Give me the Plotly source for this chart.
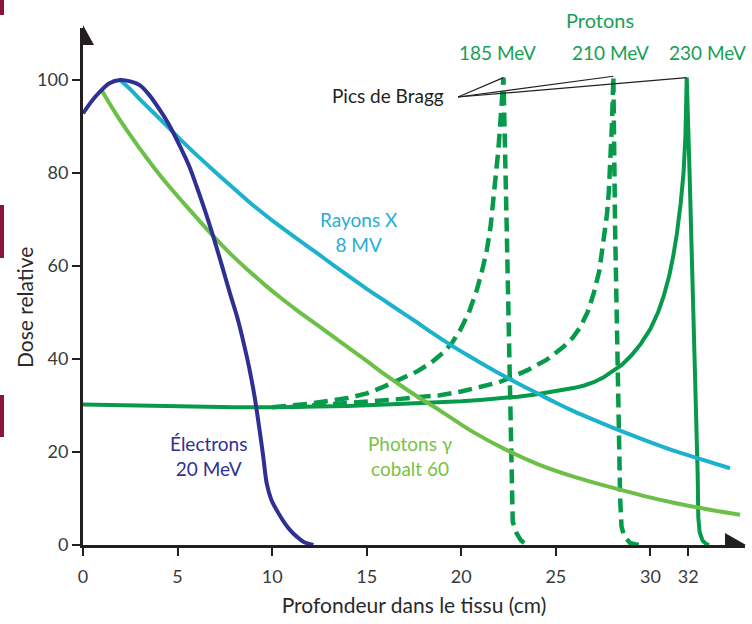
import plotly.graph_objects as go

# ---------------- data ----------------
depth_electrons = [0.0, 0.45, 0.9, 1.4, 1.96, 2.5, 3.0, 3.5, 4.07, 4.6, 5.13, 5.6, 6.01, 6.45,
                   6.89, 7.33, 7.77, 8.2, 8.66, 8.9, 9.1, 9.36, 9.53, 9.71, 9.95, 10.24, 10.6,
                   10.95, 11.3, 11.65, 12.18]
dose_electrons = [92.8, 95.4, 97.5, 99.3, 100.0, 99.7, 98.9, 96.8, 93.5, 90.0, 85.7, 81.6, 77.1,
                  71.9, 66.3, 60.3, 54.1, 48.3, 40.5, 35.8, 31.2, 24.0, 19.0, 13.3, 9.8, 7.5, 5.1,
                  3.2, 1.8, 0.7, 0.0]

depth_xrays = [1.96, 2.5, 3.0, 4.07, 5.13, 6.0, 6.89, 7.77, 8.66, 9.5, 10.42, 11.4, 12.36, 13.2,
               14.12, 15.0, 15.88, 16.8, 17.65, 18.5, 19.41, 20.3, 21.17, 22.4, 23.3, 24.17,
               25.0, 25.93, 27.2, 28.4, 29.8, 31.22, 32.7, 34.2]
dose_xrays = [100.0, 98.0, 95.9, 91.6, 87.3, 83.9, 80.6, 77.4, 74.2, 71.4, 68.5, 65.6, 62.8,
              60.3, 57.6, 55.1, 52.7, 50.2, 47.9, 45.5, 43.1, 40.9, 38.8, 36.0, 34.1, 32.3,
              30.6, 28.8, 26.6, 24.6, 22.4, 20.3, 18.4, 16.5]

depth_cobalt = [0.95, 1.7, 2.49, 3.3, 4.25, 5.5, 6.89, 7.8, 8.7, 9.6, 10.5, 11.4, 12.36, 13.2,
                14.12, 15.0, 15.88, 16.8, 17.65, 18.88, 20.5, 22.4, 24.1, 25.93, 27.2, 28.4,
                29.8, 31.22, 33.0, 34.74]
dose_cobalt = [98.0, 93.0, 88.2, 83.6, 78.6, 72.7, 66.4, 62.6, 59.2, 56.0, 53.0, 50.2, 47.4,
               44.9, 42.2, 39.6, 36.9, 34.3, 32.0, 28.9, 24.6, 20.4, 17.3, 14.7, 13.2, 11.9,
               10.4, 9.1, 7.7, 6.5]

depth_p230 = [0, 2, 4, 6, 8, 10, 12, 14, 16, 18, 20, 21, 22, 23, 24, 25, 26, 26.5, 27, 27.5, 28,
              28.5, 29, 29.5, 30, 30.4, 30.7, 31.0, 31.2, 31.4, 31.6, 31.75, 31.85, 31.92,
              32.07, 32.29, 32.45, 32.5, 32.53, 32.6, 32.75, 32.95, 33.1]
dose_p230 = [30.2, 30.0, 29.8, 29.7, 29.6, 29.6, 29.7, 29.9, 30.2, 30.5, 30.9, 31.2, 31.5, 31.9,
             32.4, 33.0, 33.8, 34.3, 35.0, 36.0, 37.3, 38.8, 40.8, 43.3, 46.5, 50.0, 53.5, 58.0,
             62.0, 67.0, 73.5, 80.0, 88.0, 100.5, 80.0, 50.0, 27.0, 15.0, 6.0, 2.8, 1.0, 0.2, 0.0]

depth_p185 = [10, 12, 14, 15, 15.88, 16.8, 17.65, 18.4, 19.05, 19.5, 19.94, 20.4, 20.82, 21.1,
              21.35, 21.55, 21.7, 21.85, 21.96, 22.05, 22.15, 22.23, 22.4, 22.55, 22.62, 22.66,
              22.72, 22.93, 23.15, 23.46]
dose_p185 = [29.6, 30.4, 31.6, 32.6, 34.0, 35.6, 37.3, 39.2, 41.4, 43.4, 46.2, 50.0, 54.8, 59.0,
             63.4, 68.5, 74.2, 80.0, 85.0, 90.0, 95.5, 100.5, 68.5, 40.0, 25.0, 12.0, 5.0, 2.5,
             1.0, 0.0]

depth_p210 = [11, 13, 15, 16.5, 17.65, 18.88, 20, 21, 22, 22.6, 23.5, 24.5, 25.4, 25.9, 26.3,
              26.7, 27.0, 27.3, 27.52, 27.7, 27.8, 27.9, 27.96, 28.0, 28.04, 28.13, 28.2, 28.31,
              28.36, 28.4, 28.47, 28.6, 28.93, 29.4]
dose_p210 = [29.7, 30.2, 30.8, 31.3, 31.8, 32.2, 33.0, 34.0, 35.0, 36.0, 37.6, 39.8, 42.6, 44.6,
             46.9, 50.3, 54.1, 59.0, 64.9, 71.0, 76.0, 83.0, 90.0, 95.0, 100.8, 68.5, 50.0, 32.6,
             20.0, 10.0, 4.0, 2.0, 0.4, 0.0]

x_ticks = [0, 5, 10, 15, 20, 25, 30, 32]
y_ticks = [0, 20, 40, 60, 80, 100]

# ---------------- layout geometry ----------------
W, H = 752, 624
L, R, T, B = 83, 7, 28, 79
X_MAX = 35.0
PX_PER_UNIT = 4.65
Y_MAX = (H - T - B) / PX_PER_UNIT


def px2paper(px):
    return (px - L) / (W - L - R)


def py2paper(py):
    return (H - B - py) / (H - T - B)


C_ELEC = "#2e3192"
C_XRAY = "#1cb1cc"
C_COB = "#6cbf47"
C_PROT = "#079a4a"
C_AXIS = "#231f20"
FONT = "Lato, 'Open Sans', sans-serif"

fig = go.Figure()
fig.add_trace(go.Scatter(x=depth_p230, y=dose_p230, mode="lines", name="Protons 230 MeV",
                         line=dict(color=C_PROT, width=4)))
fig.add_trace(go.Scatter(x=depth_p185, y=dose_p185, mode="lines", name="Protons 185 MeV",
                         line=dict(color=C_PROT, width=4.5, dash="14px,7px")))
fig.add_trace(go.Scatter(x=depth_p210, y=dose_p210, mode="lines", name="Protons 210 MeV",
                         line=dict(color=C_PROT, width=4.5, dash="14px,7px")))
fig.add_trace(go.Scatter(x=depth_cobalt, y=dose_cobalt, mode="lines", name="Photons γ cobalt 60",
                         line=dict(color=C_COB, width=4, shape="spline", smoothing=0.8)))
fig.add_trace(go.Scatter(x=depth_xrays, y=dose_xrays, mode="lines", name="Rayons X 8 MV",
                         line=dict(color=C_XRAY, width=4, shape="spline", smoothing=0.8)))
fig.add_trace(go.Scatter(x=depth_electrons, y=dose_electrons, mode="lines", name="Électrons 20 MeV",
                         line=dict(color=C_ELEC, width=4, shape="spline", smoothing=0.9)))

axis_common = dict(showgrid=False, zeroline=False, showline=True, linecolor=C_AXIS, linewidth=3,
                   ticks="outside", ticklen=8, tickwidth=2, tickcolor=C_AXIS, automargin=False,
                   tickfont=dict(family=FONT, size=18, color="#3a3a3a"))

fig.update_layout(
    width=W, height=H, margin=dict(l=L, r=R, t=T, b=B, autoexpand=False),
    paper_bgcolor="white", plot_bgcolor="white", showlegend=False,
    font=dict(family=FONT),
    xaxis=dict(range=[0, X_MAX], tickvals=x_ticks, ticktext=[str(v) for v in x_ticks],
               ticklabelstandoff=5,
               title=dict(text="Profondeur dans le tissu (cm)", standoff=13,
                          font=dict(family=FONT, size=21, color="#2a2a2a")),
               **axis_common),
    yaxis=dict(range=[0, Y_MAX], tickvals=y_ticks, ticktext=[str(v) for v in y_ticks],
               **axis_common),
)

annotations = [
    dict(text="Dose relative", px=24, py=308, textangle=-90, size=21, color="#2a2a2a"),
    dict(text="Protons", px=600, py=20, size=20, color="#17a055"),
    dict(text="185 MeV", px=497, py=53, size=19, color="#17a055"),
    dict(text="210 MeV", px=610, py=53, size=19, color="#17a055"),
    dict(text="230 MeV", px=707, py=53, size=19, color="#17a055"),
    dict(text="Pics de Bragg", px=388, py=95, size=19, color=C_AXIS),
    dict(text="Rayons X<br>8 MV", px=359, py=232, size=19, color="#27aed4"),
    dict(text="Électrons<br>20 MeV", px=208, py=456, size=19, color=C_ELEC),
    dict(text="Photons γ<br>cobalt 60", px=410, py=456, size=19, color="#7ac143"),
]
ann_list = []
for a in annotations:
    ann_list.append(dict(text=a["text"], xref="paper", yref="paper",
                         x=px2paper(a["px"]), y=py2paper(a["py"]),
                         xanchor="center", yanchor="middle", showarrow=False,
                         textangle=a.get("textangle", 0),
                         font=dict(family=FONT, size=a["size"], color=a["color"])))
fig.update_layout(annotations=ann_list)

shapes = []
# Bragg peak leader lines from a common apex to each peak
apex_x, apex_y = px2paper(458), py2paper(97)
for xs, ys in [(depth_p185, dose_p185), (depth_p210, dose_p210), (depth_p230, dose_p230)]:
    i = max(range(len(ys)), key=lambda k: ys[k])
    shapes.append(dict(type="line", xref="paper", yref="paper", x0=apex_x, y0=apex_y,
                       x1=xs[i] / X_MAX, y1=ys[i] / Y_MAX,
                       line=dict(color=C_AXIS, width=1.2)))
# arrowheads on the axes
shapes.append(dict(type="path", xref="x", yref="paper", xsizemode="pixel", ysizemode="pixel",
                   xanchor=0, yanchor=1, path="M -11,-17 L 11,-17 L 0,3 Z",
                   fillcolor=C_AXIS, line=dict(width=0)))
shapes.append(dict(type="path", xref="paper", yref="y", xsizemode="pixel", ysizemode="pixel",
                   xanchor=1, yanchor=0, path="M -20,-11 L -20,12 L 1,0 Z",
                   fillcolor=C_AXIS, line=dict(width=0)))
# thin dark-red marks at the left page edge
for y0, y1 in [(0, 15), (205, 258), (395, 437)]:
    shapes.append(dict(type="rect", xref="paper", yref="paper", x0=px2paper(0), x1=px2paper(4),
                       y0=py2paper(y1), y1=py2paper(y0), fillcolor="#8b1538", line=dict(width=0),
                       layer="below"))
fig.update_layout(shapes=shapes)

# remove the default page margin so the figure sits at the window's top-left corner
fig.write_html("out.html", config={"displayModeBar": False},
               post_script="document.body.style.margin='0px';document.body.style.padding='0px';")
